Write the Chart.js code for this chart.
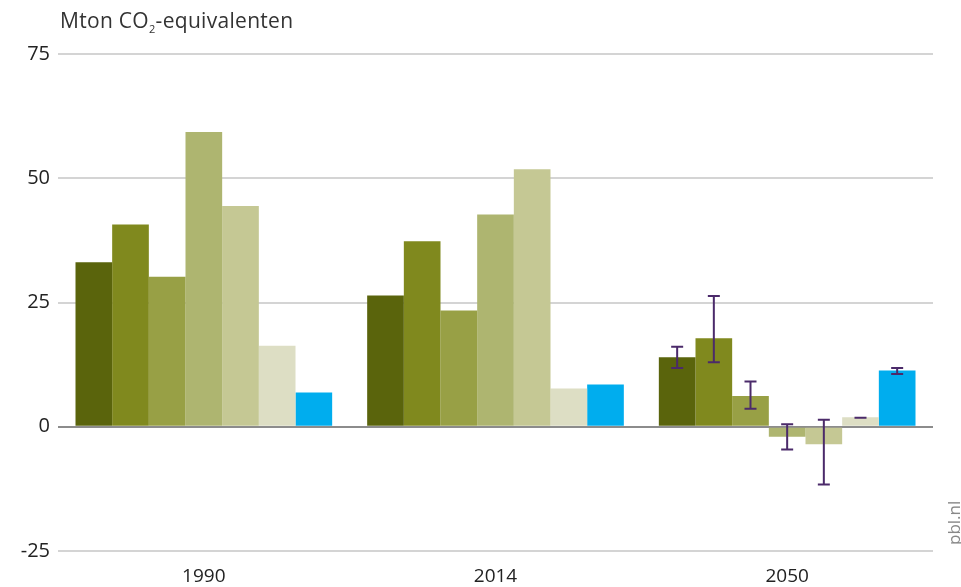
<!DOCTYPE html>
<html>
<head>
<meta charset="utf-8">
<script src="https://cdn.jsdelivr.net/npm/chart.js@4/dist/chart.umd.min.js"></script>
<style>
  body { margin: 0; background: #fff; }
  #wrap { position: relative; width: 961px; height: 587px; }
  #title { position: absolute; left: 60px; top: 6px; font-family: "Open Sans", sans-serif; font-size: 21px; color: #333; letter-spacing: 0.3px; }
  #title sub { font-size: 11px; }
  #src { position: absolute; left: 942px; top: 545px; transform-origin: 0 0; transform: rotate(-90deg);
         font-family: "Open Sans", sans-serif; font-size: 17px; color: #888; }
</style>
</head>
<body>
<div id="wrap">
  <canvas id="chart" width="961" height="587"></canvas>
  <div id="title">Mton CO<sub>2</sub>-equivalenten</div>
  <div id="src">pbl.nl</div>
</div>
<script>
const years = ["1990", "2014", "2050"];
const yTicks = [-25, 0, 25, 50, 75];

const series1 = [33.1, 26.4, 14.0];
const series2 = [40.7, 37.3, 17.8];
const series3 = [30.2, 23.4, 6.2];
const series4 = [59.3, 42.7, -2.0];
const series5 = [44.4, 51.8, -3.5];
const series6 = [16.3, 7.7, 1.9];
const series7 = [6.9, 8.5, 11.3];

// onzekerheidsmarges (alleen 2050)
const range1 = [null, null, [11.8, 16.1]];
const range2 = [null, null, [13.0, 26.3]];
const range3 = [null, null, [3.6, 9.1]];
const range4 = [null, null, [-4.6, 0.5]];
const range5 = [null, null, [-11.6, 1.4]];
const range6 = [null, null, [1.8, 1.8]];
const range7 = [null, null, [10.6, 11.8]];

const colors = ["#5a640c", "#80891e", "#98a045", "#aeb570", "#c5c894", "#dddec4", "#00adee"];
const values = [series1, series2, series3, series4, series5, series6, series7];
const ranges = [range1, range2, range3, range4, range5, range6, range7];

const errorBars = {
    id: "errorBars",
    afterDatasetsDraw(chart) {
        const ctx = chart.ctx;
        const y = chart.scales.y;
        ctx.save();
        ctx.strokeStyle = "#4b2a6a";
        ctx.lineWidth = 2;
        chart.data.datasets.forEach((ds, di) => {
            const meta = chart.getDatasetMeta(di);
            ds.ranges.forEach((r, i) => {
                if (!r) return;
                const x = meta.data[i].x;
                const lo = y.getPixelForValue(r[0]);
                const hi = y.getPixelForValue(r[1]);
                ctx.beginPath();
                ctx.moveTo(x, lo); ctx.lineTo(x, hi);
                ctx.moveTo(x - 6, lo); ctx.lineTo(x + 6, lo);
                ctx.moveTo(x - 6, hi); ctx.lineTo(x + 6, hi);
                ctx.stroke();
            });
        });
        ctx.restore();
    }
};

new Chart(document.getElementById("chart"), {
    type: "bar",
    data: {
        labels: years,
        datasets: values.map((v, i) => ({
            label: "Reeks " + (i + 1),
            data: v,
            ranges: ranges[i],
            backgroundColor: colors[i],
            categoryPercentage: 0.88,
            barPercentage: 1
        }))
    },
    options: {
        responsive: false,
        animation: false,
        layout: { padding: { top: 54, right: 28, left: 0, bottom: 0 } },
        plugins: { legend: { display: false }, tooltip: { enabled: false } },
        scales: {
            x: {
                grid: { display: false },
                border: { display: false },
                ticks: { color: "#222", font: { family: "Open Sans", size: 19 }, padding: 6 },
                afterFit: s => { s.height = 36; }
            },
            y: {
                min: -25, max: 75,
                afterBuildTicks: s => { s.ticks = yTicks.map(v => ({ value: v })); },
                grid: {
                    color: c => c.tick.value === 0 ? "#8c8c8c" : "#d4d4d4",
                    lineWidth: 2,
                    drawTicks: false
                },
                border: { display: false },
                ticks: { color: "#222", font: { family: "Open Sans", size: 20 }, padding: 8 },
                afterFit: s => { s.width = 58; }
            }
        }
    },
    plugins: [errorBars]
});
</script>
</body>
</html>
